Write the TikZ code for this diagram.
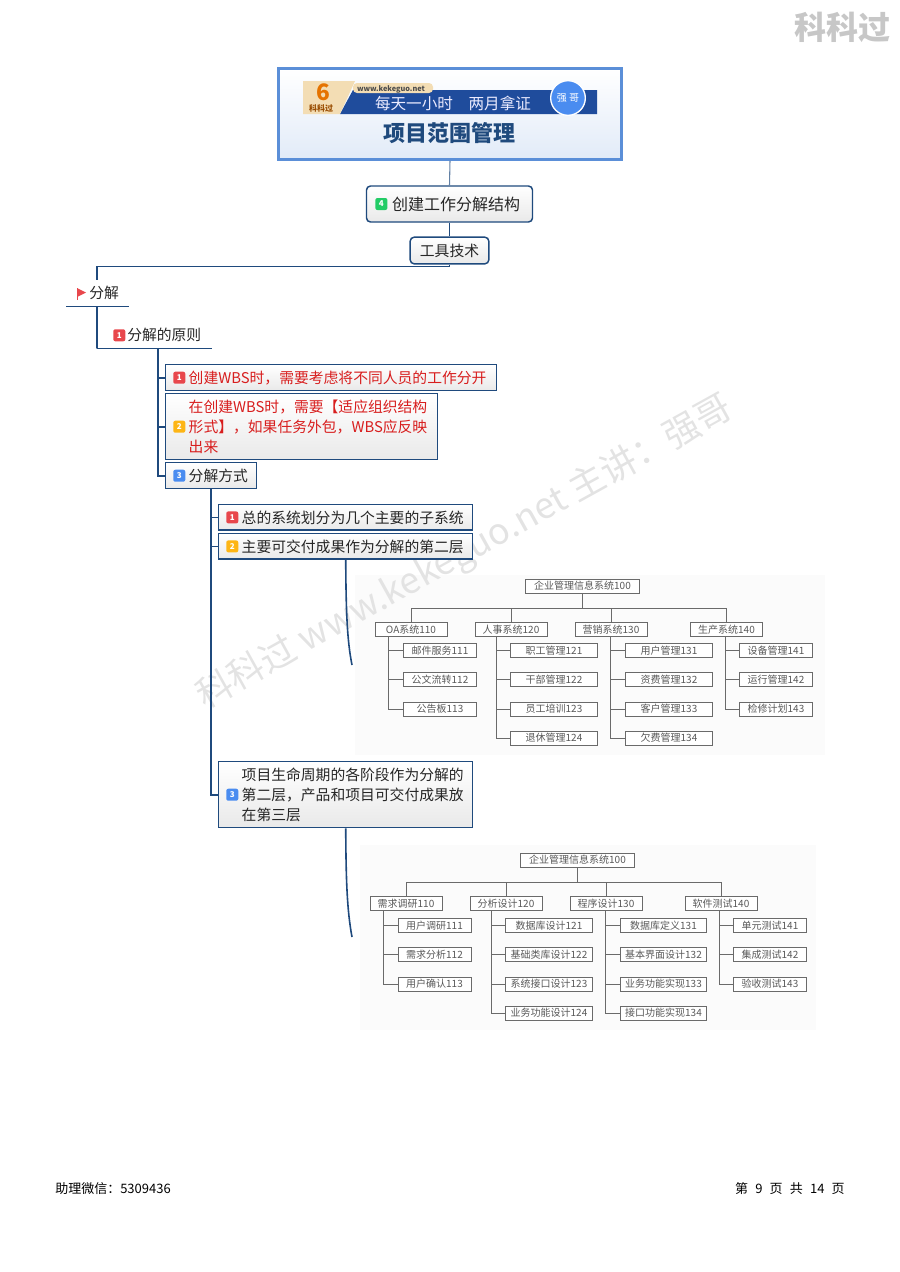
\documentclass[tikz,border=0pt]{standalone}
\usepackage{fontspec}
\setmainfont{Noto Sans CJK SC}
\usetikzlibrary{matrix,positioning}
\definecolor{linkblue}{HTML}{1F4A7D}
\definecolor{boxgray}{HTML}{E9E9E9}
\definecolor{framblue}{HTML}{5B8FD8}
\definecolor{orggray}{HTML}{6A6A6A}
\definecolor{wmgray}{HTML}{E3E3E3}
\definecolor{tred}{HTML}{D81E1E}
\definecolor{bandblue}{HTML}{1F4C9C}
\definecolor{tantop}{HTML}{F3DDB4}
\definecolor{bred}{HTML}{E8474C}
\definecolor{borange}{HTML}{FDB515}
\definecolor{bblue}{HTML}{4A8CF0}
\definecolor{bgreen}{HTML}{22CC66}
\tikzset{
link/.style={draw=linkblue,line width=1.2pt},
mybox/.style={
  draw=linkblue,
  line width=1.1pt,
  top color=white,
  bottom color=boxgray,
  inner sep=0pt,
  anchor=north west,
  align=left,
  text=black!85,
  font=\fontsize{11.1}{15}\selectfont
  },
myround/.style={
  mybox,
  rounded corners=3pt,
  anchor=center,
  align=center
  },
myplain/.style={
  inner sep=0pt,
  anchor=north west,
  align=left,
  minimum height=19.5pt,
  text=black!85,
  font=\fontsize{11.1}{15}\selectfont
  },
mybadge/.style={
  fill=#1,
  rounded corners=1.5pt,
  inner sep=0pt,
  minimum size=9pt,
  text=white,
  font=\fontsize{6}{6}\selectfont\bfseries
  },
orgbox/.style={
  draw=orggray,
  line width=0.6pt,
  fill=white,
  inner sep=0pt,
  text=black!65,
  minimum height=10.5pt,
  font=\fontsize{7.5}{9}\selectfont
  },
orgline/.style={draw=orggray,line width=0.6pt},
orgmat/.style={
  matrix of nodes,
  inner sep=0pt,
  anchor=north,
  row sep=10.75pt,
  nodes={orgbox,minimum width=#1}
  }
}
\newcommand{\padtxt}{\hspace*{17.25pt}}
\newcommand{\footgap}{\hspace{5.4pt}}

\begin{document}
\begin{tikzpicture}[x=0.75pt,y=-0.75pt]
\useasboundingbox (0,0) rectangle (900,1272);

\fill[black!1.5] (355,575) rectangle (825,755);
\fill[black!1.5] (360,845) rectangle (816,1030);

\node[rotate=29,text=wmgray,font=\fontsize{27}{28}\selectfont] (wm) at (465,553) {科科过 www.kekeguo.net 主讲^^^^ff1a强哥};
\node[text=black!22,font=\fontsize{24}{24}\selectfont\bfseries] (logo) at (842,27) {科科过};

% title
\node[draw=framblue,line width=2.25pt,top color=white,bottom color=framblue!18,minimum width=257pt,minimum height=68pt] (title) at (450,114) {};
\node[text=linkblue,font=\fontsize{16.5}{18}\selectfont\bfseries,inner sep=0pt] (titletxt) at (449,133) {项目范围管理};

\fill[bandblue] (353,90) -- (597,90) -- (597,114) -- (340,114) -- cycle;
\fill[tantop] (303,81) -- (355,81) -- (340,114) -- (303,114) -- cycle;
\node[fill=tantop,rounded corners=3pt,inner sep=0pt,minimum width=60pt,minimum height=7.5pt] (url) at (393,88) {};
\node[font=\fontsize{5.5}{6}\selectfont\bfseries,text=black!70,inner sep=0pt] (urltxt) at (391,89) {www.kekeguo.net};
\node[font=\fontsize{11.7}{12}\selectfont,text=blue!8,inner sep=0pt] (slogan) at (453,103) {每天一小时\quad 两月拿证};
\node[circle,draw=white,line width=1pt,fill=bblue,minimum size=26pt,inner sep=0pt,text=white,font=\fontsize{7.5}{8}\selectfont] (qg) at (568,98) {强 哥};
\node[font=\fontsize{17}{18}\selectfont\bfseries\itshape,text=orange!90!black,inner sep=0pt] (six) at (323,92) {6};
\node[font=\fontsize{6}{6}\selectfont\bfseries,text=orange!60!black,inner sep=0pt] (kkg) at (321,108) {科科过};

\node[myround,minimum width=124.5pt,minimum height=27pt,font=\fontsize{12}{15}\selectfont] (cj) at (449.5,204) {\hspace*{10pt}创建工作分解结构};
\node[mybadge=bgreen,right=7pt of cj.west] (cjb) {4};
\node[myround,minimum width=59pt,minimum height=20pt] (gj) at (449.5,250.5) {工具技术};

\draw[draw=linkblue!70,line width=0.8pt] (title.south) -- (cj.north);
\draw[link] (cj.south) -- (gj.north);

% left branch
\node[myplain,text width=46.5pt] (fj) at (66,280) {\padtxt 分解};
\fill[bred] (77,288) -- (86,292.5) -- (77,297) -- cycle;
\draw[bred,line width=0.7pt] (77,288) -- (77,300);
\node[myplain,text width=85.5pt] (yz) at (97,322) {\hspace*{22.5pt}分解的原则};
\node[mybadge=bred,right=12pt of yz.west] (yzb) {1};

\draw[link] (fj.south west) -- (fj.south east);
\draw[link] (yz.south west) -- (yz.south east);
\draw[link] (gj.south) -- ++(0,2) -| (fj.north);
\draw[link] (fj.south) |- (yz.south west);

\node[mybox,text width=248pt,minimum height=19.5pt,text=tred] (t1) at (165,364) {\padtxt 创建WBS时^^^^ff0c需要考虑将不同人员的工作分开};
\node[mybox,text width=204pt,minimum height=49.5pt,text=tred] (t2) at (165,393) {\padtxt 在创建WBS时^^^^ff0c需要【适应组织结构\\ \padtxt 形式】^^^^ff0c如果任务外包^^^^ff0cWBS应反映\\ \padtxt 出来};
\node[mybox,text width=68pt,minimum height=19.5pt] (t3) at (165,462) {\padtxt 分解方式};

\node[mybadge=bred,right=6pt of t1.west] (t1b) {1};
\node[mybadge=borange,right=6pt of t2.west] (t2b) {2};
\node[mybadge=bblue,right=6pt of t3.west] (t3b) {3};

\foreach \k in {1,2,3}
  \draw[link] (yz.south west) ++(61,0) |- (t\k.west);

\node[mybox,text width=190.5pt,minimum height=19pt] (s1) at (218,504) {\padtxt 总的系统划分为几个主要的子系统};
\node[mybox,text width=190.5pt,minimum height=19pt] (s2) at (218,533) {\padtxt 主要可交付成果作为分解的第二层};
\node[mybox,text width=190.5pt,minimum height=49.5pt] (s3) at (218,761) {\padtxt 项目生命周期的各阶段作为分解的\\ \padtxt 第二层^^^^ff0c产品和项目可交付成果放\\ \padtxt 在第三层};

\node[mybadge=bred,right=6pt of s1.west] (s1b) {1};
\node[mybadge=borange,right=6pt of s2.west] (s2b) {2};
\node[mybadge=bblue,right=6pt of s3.west] (s3b) {3};

\foreach \k in {1,2,3}
  \draw[link] (t3.south) |- (s\k.west);

\coordinate (e1) at (352,665);
\coordinate (e2) at (352,937);
\draw[link] (s2.south) .. controls (346,610) and (347,640) .. (e1);
\draw[link] (s3.south) .. controls (346,880) and (347,910) .. (e2);

% first chart
\node[orgbox,minimum width=86pt] (a0) at (582.5,586) {企业管理信息系统100};
\node[orgbox,minimum width=54pt] (a1) at (411,629.5) {OA系统110};
\node[orgbox,minimum width=54pt] (a2) at (511,629.5) {人事系统120};
\node[orgbox,minimum width=54pt] (a3) at (611,629.5) {营销系统130};
\node[orgbox,minimum width=54pt] (a4) at (726.5,629.5) {生产系统140};

\matrix[orgmat=54.75pt] (mata1) at (440,643) {
邮件服务111 \\
公文流转112 \\
公告板113 \\
};
\matrix[orgmat=65pt] (mata2) at (554,643) {
职工管理121 \\
干部管理122 \\
员工培训123 \\
退休管理124 \\
};
\matrix[orgmat=65pt] (mata3) at (669,643) {
用户管理131 \\
资费管理132 \\
客户管理133 \\
欠费管理134 \\
};
\matrix[orgmat=54.75pt] (mata4) at (776,643) {
设备管理141 \\
运行管理142 \\
检修计划143 \\
};

% second chart
\node[orgbox,minimum width=86pt] (b0) at (577.5,860) {企业管理信息系统100};
\node[orgbox,minimum width=54pt] (b1) at (406,903.5) {需求调研110};
\node[orgbox,minimum width=54pt] (b2) at (506,903.5) {分析设计120};
\node[orgbox,minimum width=54pt] (b3) at (606,903.5) {程序设计130};
\node[orgbox,minimum width=54pt] (b4) at (721,903.5) {软件测试140};

\matrix[orgmat=54.75pt] (matb1) at (434.5,918) {
用户调研111 \\
需求分析112 \\
用户确认113 \\
};
\matrix[orgmat=65pt] (matb2) at (549,918) {
数据库设计121 \\
基础类库设计122 \\
系统接口设计123 \\
业务功能设计124 \\
};
\matrix[orgmat=65pt] (matb3) at (663.5,918) {
数据库定义131 \\
基本界面设计132 \\
业务功能实现133 \\
接口功能实现134 \\
};
\matrix[orgmat=54.75pt] (matb4) at (770,918) {
单元测试141 \\
集成测试142 \\
验收测试143 \\
};

\foreach \c in {a,b}
  \foreach \k in {1,2,3,4}
    \draw[orgline] (\c0.south) -- ++(0,15) -| (\c\k.north);

\foreach \k/\off/\last in {1/14/3,2/22/4,3/36/4,4/35/3}
  \foreach \i in {1,...,\last} {
    \draw[orgline] (a\k.south west) ++(\off,0) |- (mata\k-\i-1.west);
    \draw[orgline] (b\k.south west) ++(\off,0) |- (matb\k-\i-1.west);
  }

% footer
\node[anchor=west,inner sep=0pt,font=\fontsize{9.75}{10}\selectfont] (foot1) at (55,1189) {助理微信^^^^ff1a5309436};
\node[anchor=east,inner sep=0pt,font=\fontsize{9.75}{10}\selectfont] (foot2) at (845,1189) {第\footgap 9\footgap 页\footgap 共\footgap 14\footgap 页};

\end{tikzpicture}
\end{document}
